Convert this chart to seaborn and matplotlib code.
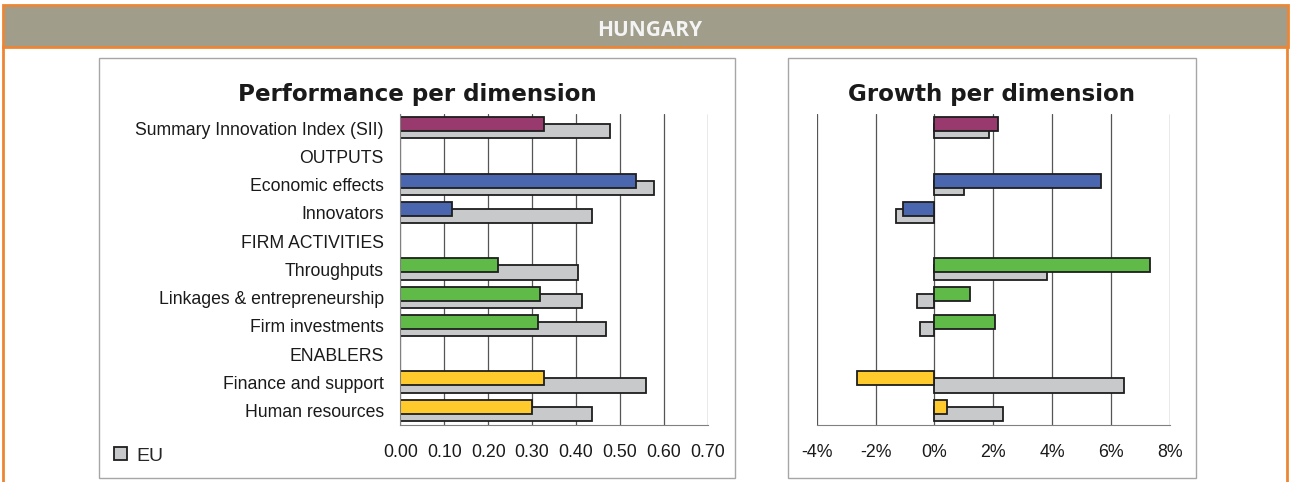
import numpy as np
import pandas as pd
import matplotlib
matplotlib.use("Agg")
import matplotlib.pyplot as plt
from matplotlib.patches import Rectangle, Patch
from matplotlib.ticker import FuncFormatter, MultipleLocator
import seaborn as sns

# ---------------------------------------------------------------- data
country = "HUNGARY"
dimensions = [
    "Summary Innovation Index (SII)", "OUTPUTS", "Economic effects", "Innovators",
    "FIRM ACTIVITIES", "Throughputs", "Linkages & entrepreneurship", "Firm investments",
    "ENABLERS", "Finance and support", "Human resources",
]
groups = [
    "SII", None, "Outputs", "Outputs",
    None, "Firm activities", "Firm activities", "Firm activities",
    None, "Enablers", "Enablers",
]
nan = np.nan
hu_performance = [0.327, nan, 0.536, 0.118, nan, 0.222, 0.318, 0.313, nan, 0.327, 0.299]
eu_performance = [0.477, nan, 0.578, 0.437, nan, 0.405, 0.414, 0.468, nan, 0.559, 0.437]
hu_growth = [2.17, nan, 5.65, -1.07, nan, 7.33, 1.22, 2.04, nan, -2.64, 0.42]   # %
eu_growth = [1.86, nan, 1.02, -1.29, nan, 3.82, -0.61, -0.48, nan, 6.45, 2.32]  # %

group_colors = {
    "SII": "#983a6e",
    "Outputs": "#4a66ae",
    "Firm activities": "#60ba48",
    "Enablers": "#ffcb2c",
}
EU_GREY = "#c8c9ca"
EDGE = "#1e1e1e"
GRID = "#555555"
SPINE = "#808080"
ORANGE = "#ec8634"
BANNER = "#a09d8b"

# ---------------------------------------------------------------- table
row = np.arange(len(dimensions))
df = pd.DataFrame({
    "dimension": dimensions,
    "group": groups,
    "row": row,
    "hu_perf": hu_performance,
    "eu_perf": eu_performance,
    "hu_growth": hu_growth,
    "eu_growth": eu_growth,
})
# country bars sit slightly above the EU bars, overlapping them
df["y_hu"] = df["row"] - 0.14
df["y_eu"] = df["row"] + 0.11
bars = df.dropna(subset=["group"])

# ---------------------------------------------------------------- figure
W, H = 1290, 482
sns.set_style("white")
plt.rcParams["font.family"] = ["Liberation Sans", "DejaVu Sans"]
fig = plt.figure(figsize=(W / 100, H / 100), dpi=100)


def fx(px):
    return px / W


def fy(py):
    return 1 - py / H


def fig_rect(x0, y0, x1, y1, **kw):
    fig.patches.append(Rectangle((fx(x0), fy(y1)), fx(x1) - fx(x0), fy(y0) - fy(y1),
                                 transform=fig.transFigure, **kw))


# frame: banner with orange rule and side borders
fig_rect(2.5, 5.5, 1287.5, 46.5, facecolor=BANNER, edgecolor=ORANGE, linewidth=2.0, zorder=0)
fig.add_artist(plt.Line2D([fx(3), fx(3)], [fy(46), fy(H + 2)], color=ORANGE, lw=2.0,
                          transform=fig.transFigure))
fig.add_artist(plt.Line2D([fx(1287), fx(1287)], [fy(46), fy(H + 2)], color=ORANGE, lw=2.0,
                          transform=fig.transFigure))
fig.text(fx(650), fy(31), country, color="#f4f4f4", fontsize=15, fontweight="bold",
         family=["Open Sans", "DejaVu Sans"], ha="center", va="center")

# panel boxes
fig_rect(98.5, 58, 735.5, 477.5, facecolor="none", edgecolor="#a6a6a6", linewidth=1.0)
fig_rect(787.5, 58, 1195.5, 477.5, facecolor="none", edgecolor="#a6a6a6", linewidth=1.0)

ax_top, ax_bot = 114, 424.7
ax1 = fig.add_axes([fx(400.3), fy(ax_bot), fx(707.7) - fx(400.3), fy(ax_top) - fy(ax_bot)])
ax2 = fig.add_axes([fx(816.7), fy(ax_bot), fx(1170) - fx(816.7), fy(ax_top) - fy(ax_bot)])

bar_kw = dict(orient="y", native_scale=True, width=0.5, errorbar=None, saturation=1,
              edgecolor=EDGE, linewidth=1.3)

for ax, hu_col, eu_col in [(ax1, "hu_perf", "eu_perf"), (ax2, "hu_growth", "eu_growth")]:
    ax.set_axisbelow(True)
    sns.barplot(data=bars, x=eu_col, y="y_eu", color=EU_GREY, ax=ax, **bar_kw)
    sns.barplot(data=bars, x=hu_col, y="y_hu", hue="group", palette=group_colors,
                dodge=False, legend=False, ax=ax, **bar_kw)
    ax.set_ylim(len(dimensions) - 0.5, -0.5)
    ax.set_xlabel("")
    ax.set_ylabel("")
    ax.grid(axis="x", color=GRID, linewidth=0.9)
    ax.grid(axis="y", visible=False)
    for s in ("top", "right"):
        ax.spines[s].set_visible(False)
    ax.spines["bottom"].set_color(SPINE)
    ax.tick_params(axis="x", direction="out", length=5, width=0.9, color=SPINE,
                   pad=9, labelsize=12.8, labelcolor="#1a1a1a")

# performance axis
ax1.set_xlim(0, 0.70)
ax1.xaxis.set_major_locator(MultipleLocator(0.10))
ax1.xaxis.set_major_formatter(FuncFormatter(lambda v, _: f"{v:.2f}"))
ax1.set_yticks(row)
ax1.set_yticklabels(dimensions)
ax1.set_yticks(np.arange(len(dimensions) + 1) - 0.5, minor=True)
ax1.tick_params(axis="y", which="major", length=0, pad=12, labelsize=12.7, labelcolor="#1a1a1a")
ax1.tick_params(axis="y", which="minor", direction="out", length=5, width=0.9, color=SPINE)
ax1.spines["left"].set_color(SPINE)

# growth axis
ax2.set_xlim(-4, 8)
ax2.xaxis.set_major_locator(MultipleLocator(2))
ax2.xaxis.set_major_formatter(FuncFormatter(lambda v, _: f"{v:.0f}%"))
ax2.spines["left"].set_visible(False)
ax2.set_yticks([])

# panel titles
title_kw = dict(fontsize=16.6, fontweight="bold", family=["DejaVu Sans"], color="#1a1a1a",
                ha="center", va="center")
fig.text(fx(417), fy(95), "Performance per dimension", **title_kw)
fig.text(fx(992), fy(95), "Growth per dimension", **title_kw)

# legend
fig.legend(handles=[Patch(facecolor=EU_GREY, edgecolor=EDGE, linewidth=1.3, label="EU")],
           loc="center left", bbox_to_anchor=(fx(114), fy(456)), frameon=False,
           fontsize=14, handlelength=0.65, handleheight=0.65, handletextpad=0.5,
           borderpad=0, borderaxespad=0)

fig.savefig("out.png", dpi=100)
